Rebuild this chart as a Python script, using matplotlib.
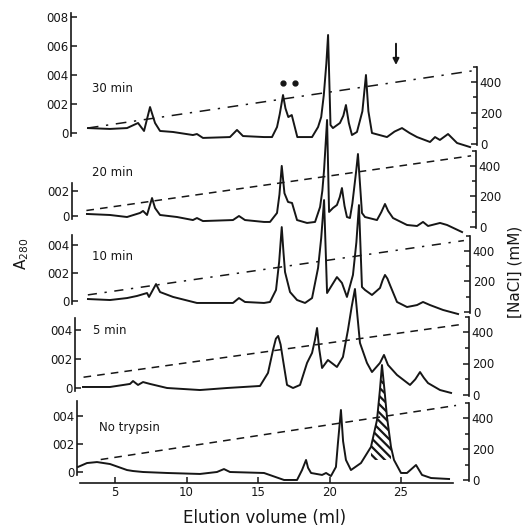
import matplotlib
matplotlib.use("Agg")
import matplotlib.pyplot as plt
import numpy as np

plt.rcParams['font.family'] = ['DejaVu Sans']
plt.rcParams['hatch.linewidth'] = 1.6

# ---------------- data (elution volume in ml, A280, NaCl in mM) ----------------
ml_30 = [3.11, 4.65, 5.84, 6.61, 7.03, 7.45, 7.80, 8.15, 9.06, 10.45, 10.73, 11.15, 13.04, 13.53,
         13.95, 15.42, 15.98, 16.33, 16.52, 16.75, 16.92, 17.12, 17.36, 17.75, 18.78, 19.20, 19.42,
         19.60, 19.78, 19.90, 20.07, 20.24, 20.73, 20.97, 21.15, 21.35, 21.57, 21.92, 22.30, 22.55,
         22.72, 22.97, 24.02, 24.55, 25.07, 25.60, 26.12, 27.03, 27.38, 27.72, 28.29, 28.92, 29.83]
a_30 = [0.0034, 0.0028, 0.0034, 0.0069, 0.0014, 0.0179, 0.0069, 0.0014, 0.0007, -0.0014, -0.0007,
        -0.0034, -0.0028, 0.0021, -0.0021, -0.0028, -0.0028, 0.0041, 0.0130, 0.0262, 0.0170, 0.0110,
        0.0124, -0.0028, -0.0028, 0.0041, 0.0110, 0.026, 0.0480, 0.0676, 0.0055, 0.0034, 0.0069,
        0.0120, 0.0193, 0.0070, -0.0014, 0.0007, 0.0150, 0.040, 0.0150, 0.0, -0.0028, 0.0010, 0.0034,
        0.0000, -0.0028, -0.0062, -0.0028, -0.0048, -0.0007, -0.0069, -0.0097]

ml_20 = [3.04, 4.65, 5.84, 6.75, 6.96, 7.24, 7.59, 7.80, 8.15, 9.34, 10.45, 10.73, 11.15, 13.25,
         13.67, 14.09, 15.42, 15.84, 16.33, 16.50, 16.66, 16.85, 17.10, 17.38, 17.73, 18.43, 18.99,
         19.34, 19.50, 19.62, 19.83, 19.97, 20.24, 20.52, 20.72, 20.87, 21.05, 21.22, 21.43, 21.60,
         21.71, 21.87, 21.99, 22.27, 22.48, 23.32, 23.62, 23.88, 24.10, 24.44, 25.42, 26.12, 26.54,
         26.89, 27.73, 28.22, 29.27]
a_20 = [0.0016, 0.0008, -0.0008, 0.0024, 0.0040, 0.0008, 0.0142, 0.0063, 0.0008, -0.0008, -0.0032,
        -0.0016, -0.0040, -0.0032, 0.0, -0.0032, -0.0047, -0.0047, 0.0024, 0.0170, 0.0396, 0.0180,
        0.0111, 0.0103, -0.0032, -0.0055, -0.0047, 0.0071, 0.0200, 0.0364, 0.0759, 0.0032, 0.0063,
        0.0087, 0.0150, 0.0221, 0.0080, -0.0008, -0.0016, 0.0100, 0.0206, 0.0360, 0.0490, 0.0024,
        -0.0008, -0.0032, 0.0030, 0.0095, 0.0040, -0.0016, -0.0071, -0.0079, -0.0047, -0.0079,
        -0.0055, -0.0071, -0.0127]

ml_10 = [3.11, 4.65, 5.84, 6.54, 7.24, 7.38, 7.87, 8.15, 9.06, 10.73, 13.25, 13.67, 14.09, 15.42,
         15.84, 16.26, 16.48, 16.66, 16.78, 16.89, 17.24, 17.73, 18.29, 18.78, 19.20, 19.42, 19.62,
         19.83, 20.52, 20.87, 21.22, 21.64, 21.88, 22.06, 22.27, 22.48, 22.97, 23.53, 23.72, 23.88,
         24.05, 24.23, 24.72, 25.42, 26.12, 26.54, 27.03, 27.94, 28.99]
a_10 = [0.0014, 0.0007, 0.0021, 0.0036, 0.0057, 0.0029, 0.0121, 0.0064, 0.0029, -0.0014, -0.0014,
        0.0021, -0.0007, -0.0014, -0.0007, 0.0079, 0.0280, 0.0528, 0.0350, 0.0207, 0.0064, 0.0007,
        -0.0014, 0.0021, 0.0236, 0.0450, 0.0721, 0.0057, 0.0171, 0.0129, 0.0029, 0.0186, 0.0420,
        0.0685, 0.0100, 0.0079, 0.0043, 0.0093, 0.0150, 0.0186, 0.0160, 0.0114, -0.0007, -0.0043,
        -0.0029, -0.0007, -0.0029, -0.0064, -0.0093]

ml_5 = [2.76, 4.65, 6.05, 6.26, 6.61, 6.96, 7.45, 8.64, 10.94, 12.83, 15.14, 15.70, 16.05, 16.25,
        16.41, 16.58, 16.75, 17.03, 17.45, 17.94, 18.43, 18.78, 18.98, 19.13, 19.28, 19.48, 19.89,
        20.52, 20.94, 21.29, 21.55, 21.78, 21.95, 22.13, 22.62, 22.97, 23.53, 23.81, 24.09, 24.72,
        25.63, 26.00, 26.33, 26.60, 26.89, 27.73, 28.50]
a_5 = [0.0007, 0.0007, 0.0028, 0.0048, 0.0021, 0.0041, 0.0028, 0.0, -0.0014, 0.0, 0.0014, 0.0104,
       0.0262, 0.0340, 0.0359, 0.0300, 0.0193, 0.0021, 0.0, 0.0021, 0.0173, 0.0242, 0.0330, 0.0414,
       0.0270, 0.0138, 0.0193, 0.0145, 0.0214, 0.0400, 0.0560, 0.0683, 0.0500, 0.0311, 0.0173,
       0.0110, 0.0173, 0.0228, 0.0159, 0.0090, 0.0021, 0.0060, 0.0110, 0.0070, 0.0034, -0.0014,
       -0.0034]

ml_nt = [2.41, 3.04, 3.74, 4.65, 5.84, 6.26, 6.96, 8.64, 10.94, 12.13, 12.62, 13.04, 15.42, 16.82,
         17.73, 18.08, 18.36, 18.50, 18.71, 19.48, 19.76, 20.10, 20.45, 20.59, 20.80, 20.95, 21.15,
         21.50, 22.20, 22.90, 23.32, 23.52, 23.67, 23.85, 24.02, 24.30, 24.51, 25.00, 25.42, 26.05,
         26.47, 27.10, 28.36]
a_nt = [0.0036, 0.0064, 0.0071, 0.0057, 0.0014, 0.0007, 0.0, -0.0007, -0.0014, 0.0, 0.0021, 0.0,
        -0.0007, -0.0057, -0.0057, 0.0014, 0.0086, 0.0030, -0.0007, -0.0021, -0.0007, -0.0029,
        0.0036, 0.0207, 0.0443, 0.0220, 0.0086, 0.0014, 0.0064, 0.0179, 0.0371, 0.0580, 0.0764,
        0.0580, 0.0393, 0.0179, 0.0086, -0.0007, -0.0007, 0.0050, -0.0021, -0.0043, -0.0050]

# NaCl gradient (start / end) for each run
grad_ml_30, grad_nacl_30 = [3.1, 30.3], [103, 476]
grad_ml_20, grad_nacl_20 = [3.0, 29.9], [108, 466]
grad_ml_10, grad_nacl_10 = [3.1, 29.4], [112, 468]
grad_ml_5, grad_nacl_5 = [2.8, 29.3], [113, 449]
grad_ml_nt, grad_nacl_nt = [4.0, 28.85], [132, 481]

# hatched peak (no trypsin)
hatch_ml = [22.9, 24.35]
hatch_floor = 0.0086

panel_labels = ['30 min', '20 min', '10 min', '5 min', 'No trypsin']
x_ticks = [5, 10, 15, 20, 25]
a280_ticks = [0, 0.02, 0.04, 0.06, 0.08]
a280_tick_labels = ['0', '002', '004', '006', '008']
nacl_ticks = [0, 200, 400]
nacl_tick_labels = ['0', '200', '400']

# ---------------- layout (pixels of the 528x529 picture) ----------------
W, H = 528, 529
PX_ML0, PX_PER_ML = 43.5, 14.3
AX_L, AX_R = 60, 490


def px2ml(p):
    return (p - PX_ML0) / PX_PER_ML


layout = [
    dict(y0=133, s=29.0, r0=146, r4=83, lpx=71, rpx=477, atop=0.083, nt=5, lx=92, ly=88, ls=(0, (7, 5, 1.5, 5))),
    dict(y0=216, s=25.3, r0=231, r4=168, lpx=72, rpx=476, atop=0.026, nt=2, lx=92, ly=173, ls=(0, (5, 4))),
    dict(y0=301, s=28.0, r0=314, r4=252, lpx=72, rpx=470, atop=0.047, nt=3, lx=92, ly=257, ls=(0, (6, 5, 1.5, 5))),
    dict(y0=388, s=29.0, r0=395, r4=332, lpx=75, rpx=469, atop=0.048, nt=3, lx=93, ly=330, ls=(0, (5, 4))),
    dict(y0=472, s=28.0, r0=480, r4=418, lpx=77, rpx=469, atop=0.051, nt=3, lx=99, ly=427, ls=(0, (5, 4))),
]
traces = [(ml_30, a_30), (ml_20, a_20), (ml_10, a_10), (ml_5, a_5), (ml_nt, a_nt)]
grads = [(grad_ml_30, grad_nacl_30), (grad_ml_20, grad_nacl_20), (grad_ml_10, grad_nacl_10),
         (grad_ml_5, grad_nacl_5), (grad_ml_nt, grad_nacl_nt)]

INK = '#161616'
fig = plt.figure(figsize=(W / 100, H / 100), dpi=100)
fig.patch.set_facecolor('white')

axes = []
for i, (lay, (mx, ay), (gx, gy)) in enumerate(zip(layout, traces, grads)):
    y0, s = lay['y0'], lay['s']
    ybot, ytop = y0 + 11, y0 - 118
    ax = fig.add_axes([AX_L / W, 1 - ybot / H, (AX_R - AX_L) / W, (ybot - ytop) / H])
    ax.set_xlim(px2ml(AX_L), px2ml(AX_R))
    ax.set_ylim((y0 - ybot) / s * 0.02, (y0 - ytop) / s * 0.02)
    ax.patch.set_visible(False)
    for sp in ['top', 'right']:
        ax.spines[sp].set_visible(False)
    ax.spines['left'].set_position(('data', px2ml(lay['lpx'])))
    ax.spines['left'].set_bounds(-0.002, lay['atop'])
    ax.spines['left'].set_linewidth(1.2)
    ax.spines['left'].set_color(INK)
    ax.set_yticks(a280_ticks[:lay['nt']])
    ax.set_yticklabels(a280_tick_labels[:lay['nt']])
    ax.tick_params(axis='y', direction='in', length=4, width=1.1, labelsize=8.5, pad=2, colors=INK)

    # NaCl axis
    tw = ax.twinx()
    r0, r4 = lay['r0'], lay['r4']
    tw.set_ylim((r0 - ybot) / (r0 - r4) * 400, (r0 - ytop) / (r0 - r4) * 400)
    for sp in ['top', 'left', 'bottom']:
        tw.spines[sp].set_visible(False)
    tw.spines['right'].set_position(('data', px2ml(lay['rpx'])))
    tw.spines['right'].set_bounds(-8, 495)
    tw.spines['right'].set_linewidth(1.2)
    tw.spines['right'].set_color(INK)
    tw.set_yticks(nacl_ticks)
    tw.set_yticklabels(nacl_tick_labels)
    tw.set_yticks([100, 300, 495], minor=True)
    tw.tick_params(axis='y', which='major', direction='in', length=4, width=1.1, labelsize=8.5, pad=2, colors=INK)
    tw.tick_params(axis='y', which='minor', direction='in', length=3, width=1.1, colors=INK)

    # gradient
    tw.plot(gx, gy, color=INK, lw=1.1, linestyle=lay['ls'], clip_on=False)
    # trace
    ax.plot(mx, ay, color=INK, lw=1.4, solid_joinstyle='round', clip_on=False, zorder=3)

    if i < len(layout) - 1:
        ax.spines['bottom'].set_visible(False)
        ax.set_xticks([])
    else:
        ax.spines['bottom'].set_bounds(px2ml(80), px2ml(453))
        ax.spines['bottom'].set_linewidth(1.2)
        ax.spines['bottom'].set_color(INK)
        ax.set_xticks(x_ticks)
        ax.tick_params(axis='x', direction='in', length=4, width=1.1, labelsize=8.5, pad=2, colors=INK)
        # hatched peak
        mxa, aya = np.array(mx), np.array(ay)
        sel = (mxa >= hatch_ml[0]) & (mxa <= hatch_ml[1])
        ax.fill_between(mxa[sel], hatch_floor, aya[sel], facecolor='none', edgecolor=INK,
                        hatch='\\\\\\\\', linewidth=0, zorder=2)

    fig.text(lay['lx'] / W, 1 - lay['ly'] / H, panel_labels[i], fontsize=8.5, color=INK,
             ha='left', va='center')
    axes.append(ax)

# annotations on the 30 min run
ax30 = axes[0]
ax30.plot([16.75, 17.59], [0.0345, 0.0345], 'o', color=INK, ms=3.5, clip_on=False)
ax30.annotate('', xy=(24.65, 0.0450), xytext=(24.65, 0.0635),
              arrowprops=dict(arrowstyle='-|>', lw=1.4, color=INK, mutation_scale=9))

fig.text(265 / W, 1 - 518 / H, 'Elution volume (ml)', fontsize=12, color=INK, ha='center', va='center')
fig.text(22 / W, 1 - 254 / H, r'A$_{280}$', fontsize=11, color=INK, rotation=90, ha='center', va='center')
fig.text(515 / W, 1 - 272 / H, '[NaCl] (mM)', fontsize=11, color=INK, rotation=90, ha='center', va='center')

fig.savefig('out.png', dpi=100, facecolor='white')
